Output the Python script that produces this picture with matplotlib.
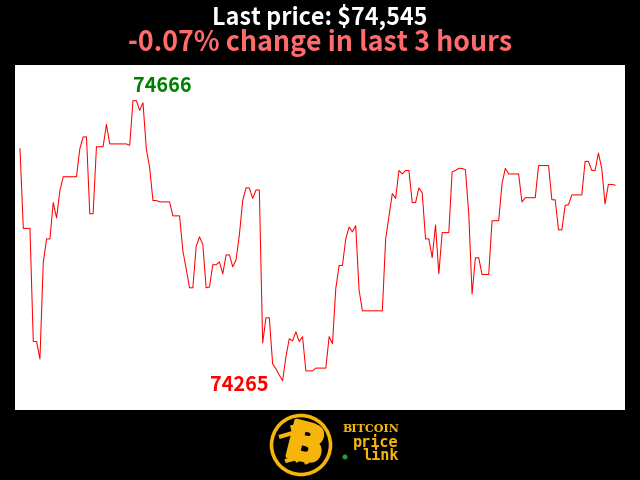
import matplotlib
matplotlib.use('Agg')
import matplotlib.pyplot as plt
import matplotlib.patheffects as pe
from matplotlib.patches import Circle, Ellipse

# one price per minute
prices = [74597, 74483, 74483, 74483, 74321, 74321, 74296, 74434, 74468, 74468,
          74520, 74498, 74537, 74557, 74557, 74557, 74557, 74557, 74597, 74614,
          74614, 74504, 74504, 74600, 74600, 74600, 74632, 74604, 74604, 74604,
          74604, 74604, 74604, 74602, 74666, 74666, 74652, 74663, 74597, 74570,
          74523, 74523, 74521, 74521, 74521, 74521, 74501, 74501, 74501, 74451,
          74425, 74398, 74398, 74457, 74471, 74460, 74398, 74399, 74431, 74431,
          74435, 74418, 74445, 74445, 74428, 74438, 74474, 74523, 74541, 74541,
          74526, 74538, 74538, 74319, 74355, 74355, 74289, 74282, 74273, 74265,
          74299, 74325, 74322, 74335, 74321, 74328, 74279, 74279, 74279, 74283,
          74283, 74283, 74283, 74328, 74318, 74397, 74430, 74430, 74468, 74485,
          74478, 74487, 74395, 74365, 74365, 74365, 74365, 74365, 74365, 74365,
          74468, 74501, 74533, 74526, 74566, 74561, 74566, 74566, 74520, 74520,
          74541, 74534, 74468, 74468, 74441, 74488, 74418, 74477, 74477, 74477,
          74564, 74566, 74569, 74569, 74567, 74504, 74389, 74441, 74441, 74417,
          74417, 74417, 74494, 74494, 74494, 74547, 74569, 74561, 74561, 74561,
          74561, 74521, 74527, 74527, 74527, 74527, 74573, 74573, 74573, 74573,
          74524, 74524, 74481, 74481, 74516, 74517, 74531, 74531, 74531, 74531,
          74579, 74579, 74566, 74566, 74591, 74569, 74518, 74546, 74546, 74545]

title_top = 'Last price: $74,545'
title_bottom = '-0.07% change in last 3 hours'
logo_words = ['BITCOIN', 'price', 'link']
logo_fonts = ['DejaVu Serif', 'DejaVu Sans Mono', 'DejaVu Sans Mono']
logo_sizes = [8, 11, 11]

gold = '#f5b50a'
plt.rcParams['font.family'] = ['Noto Sans CJK SC', 'DejaVu Sans']

fig = plt.figure(figsize=(6.4, 4.8), dpi=100, facecolor='black')
ax = fig.add_axes([15 / 640, 70 / 480, 610 / 640, 345 / 480])
ax.plot(range(len(prices)), prices, color='red', lw=0.75)
ax.set_xlim(-1.5, len(prices) - 1 + 3)
ax.set_ylim(74223, 74717)
ax.set_xticks([])
ax.set_yticks([])
for s in ax.spines.values():
    s.set_visible(False)

hi = max(prices)
lo = min(prices)
ax.annotate(str(hi), (prices.index(hi), hi), xytext=(0, 3.5), textcoords='offset points',
            color='green', fontsize=14.3, fontweight='bold', ha='left', va='bottom')
ax.annotate(str(lo), (prices.index(lo), lo), xytext=(-10, 4.5), textcoords='offset points',
            color='red', fontsize=14.3, fontweight='bold', ha='right', va='top')

# overlay in pixel coordinates for titles and logo
ov = fig.add_axes([0, 0, 1, 1], zorder=5)
ov.set_xlim(0, 640)
ov.set_ylim(480, 0)
ov.axis('off')
ov.patch.set_alpha(0)
ov.text(320, 16.5, title_top, color='white', fontsize=16.8, fontweight='bold', ha='center', va='center')
ov.text(320, 43, title_bottom, color='#ff6b6b', fontsize=19.3, fontweight='bold', ha='center', va='center')

# logo: ring, B with ticks and serifs, chain in the stem
ov.add_patch(Circle((301, 445), 29.5, fill=False, ec=gold, lw=2.6))
for x0, y0, x1, y1 in [(292, 425, 295, 436), (299, 427, 302, 437),
                       (295, 455, 298, 462), (304, 456, 307, 464),
                       (279, 437, 296, 432), (285, 461, 302, 457)]:
    ov.plot([x0, x1], [y0, y1], color=gold, lw=3, solid_capstyle='butt')
ov.text(305, 446, 'B', color=gold, fontsize=36, fontweight='bold', rotation=-14,
        ha='center', va='center', family='DejaVu Sans',
        path_effects=[pe.withStroke(linewidth=3, foreground=gold)])
ov.add_patch(Ellipse((291, 442), 4, 11, angle=-14, fill=False, ec='black', lw=1))
ov.add_patch(Ellipse((293.5, 452), 4, 11, angle=-14, fill=False, ec='black', lw=1))

for word, font, size, y in zip(logo_words, logo_fonts, logo_sizes, [429, 442, 456]):
    ov.text(399, y, word, color=gold, fontsize=size, fontweight='bold',
            family=font, ha='right', va='center')
ov.add_patch(Circle((345, 457), 1.8, color='#2ca02c'))

fig.savefig('out.png', dpi=100, facecolor='black')
